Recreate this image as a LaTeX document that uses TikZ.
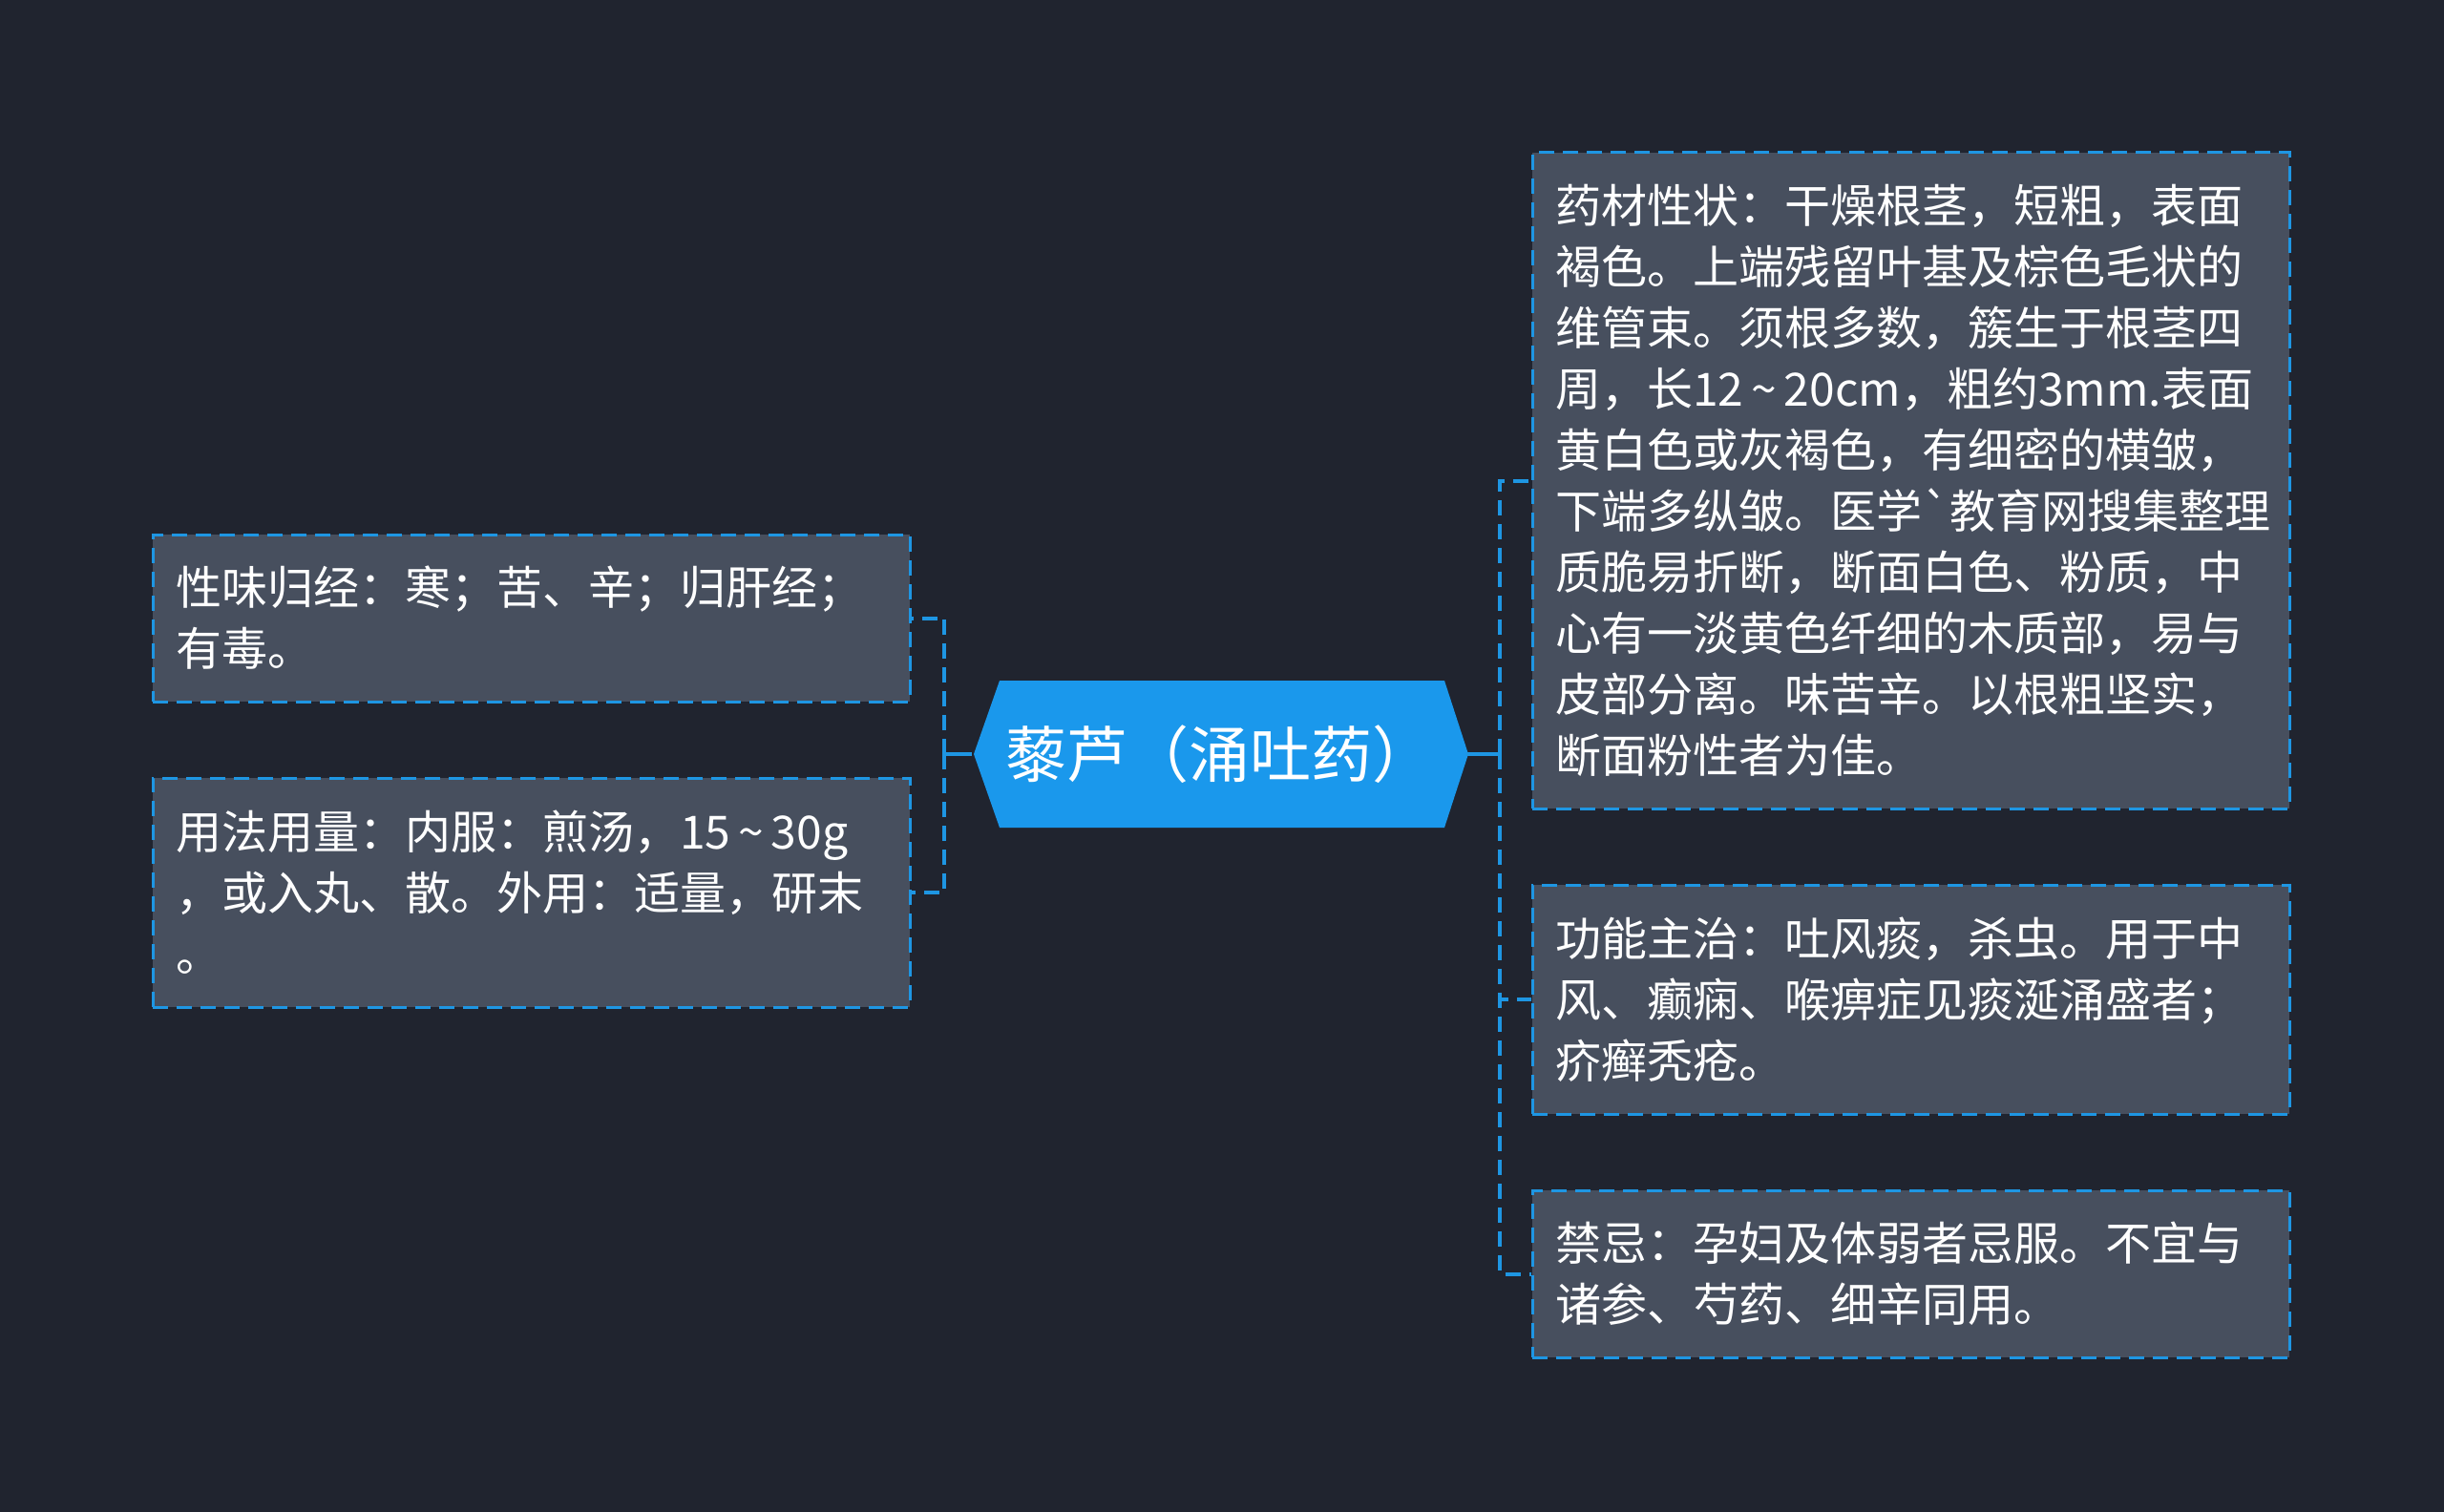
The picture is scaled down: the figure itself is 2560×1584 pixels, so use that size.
\documentclass[tikz,border=0pt]{standalone}
\usepackage{fontspec}
\newfontfamily\cjk{Noto Sans CJK SC}
\definecolor{bgc}{HTML}{20242F}
\definecolor{boxc}{HTML}{474F5E}
\definecolor{linec}{HTML}{1E96E3}
\definecolor{hubc}{HTML}{1A98EC}
\begin{document}
\begin{tikzpicture}[x=1pt,y=-1pt,
  box/.style={draw=linec, line width=3pt, dash pattern=on 16pt off 9pt, fill=boxc,
    minimum width=793pt, text width=745pt, inner xsep=24pt, inner ysep=0pt,
    align=left, text=white, font=\cjk\fontsize{48}{64}\selectfont},
  hub/.style={minimum width=518pt, minimum height=154pt, inner sep=0pt,
    text=white, font=\cjk\fontsize{64}{76}\selectfont},
  conn/.style={draw=linec, line width=4pt, dash pattern=on 16pt off 9pt},
  stub/.style={draw=linec, line width=4pt}]
\useasboundingbox (0,0) rectangle (2560,1584);
\fill[bgc] (0,0) rectangle (2560,1584);
% central hexagon
\fill[hubc] (1047,713) -- (1513,713) -- (1538,790) -- (1513,867) -- (1047,867) -- (1020,790) -- cycle;
\node[hub] (c) at (1277,790) {藜芦（涌吐药）};
% right boxes
\node[box, minimum height=687pt] (r1) at (2001.5,503.5) {药材性状：干燥根茎，短粗，表面\\褐色。上端残留叶基及棕色毛状的\\维管束。须根多数，簇生于根茎四\\周，长12\,\textasciitilde\,20cm，粗约3mm.表面\\黄白色或灰褐色，有细密的横皱，\\下端多纵皱。医学\char"60 教育网搜集整理\\质脆易折断，断面白色、粉质，中\\心有一淡黄色纤细的木质部，易与\\皮部分离。味苦辛。以根粗坚实，\\断面粉性者为佳。};
\node[box, minimum height=240pt] (r2) at (2001.5,1047) {功能主治：吐风痰，杀虫。用于中\\风、癫痫、喉痹症见痰涎涌盛者；\\疥癣秃疮。};
\node[box, minimum height=175pt] (r3) at (2001.5,1334.5) {禁忌：孕妇及体弱者忌服。不宜与\\诸参、芍药、细辛同用。};
% left boxes
\node[box, minimum height=175pt] (l1) at (556.5,647.5) {性味归经：寒；苦、辛；归肝经；\\有毒。};
\node[box, minimum height=240pt] (l2) at (556.5,935) {用法用量：内服：煎汤，15\,\textasciitilde\,30g\\，或入丸、散。外用：适量，研末\\。};
% connectors
\coordinate (jr) at (1571,790);
\coordinate (jl) at (989,790);
\draw[stub] (c.east) -- (jr);
\draw[conn] (jr) |- (r1.west);
\draw[conn] (jr) |- (r2.west);
\draw[conn] (jr) |- (r3.west);
\draw[stub] (c.west) -- (jl);
\draw[conn] (jl) |- (l1.east);
\draw[conn] (jl) |- (l2.east);
\end{tikzpicture}
\end{document}
